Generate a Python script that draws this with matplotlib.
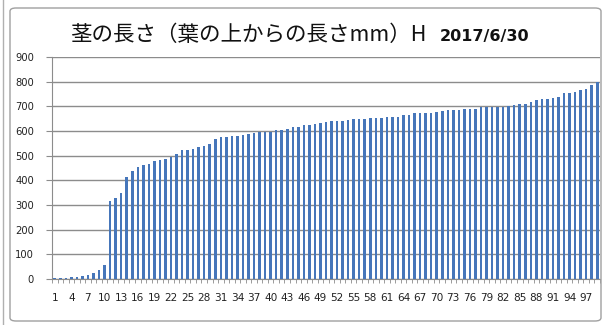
import matplotlib.pyplot as plt
from matplotlib.patches import FancyBboxPatch
from matplotlib.ticker import MultipleLocator
import numpy as np

plt.rcParams['font.family'] = ['Noto Sans CJK JP', 'DejaVu Sans']

# stem lengths (mm), sorted ascending, one bar per plant
lengths = [
    3, 4, 5, 9, 10, 14, 15, 25, 38, 58,
    318, 327, 347, 412, 437, 455, 464, 465, 478, 482,
    486, 493, 505, 522, 522, 529, 536, 540, 549, 568,
    574, 576, 579, 579, 583, 586, 592, 596, 596, 597,
    603, 606, 608, 617, 617, 623, 623, 630, 633, 638,
    640, 640, 641, 644, 648, 648, 649, 653, 653, 654,
    655, 657, 658, 664, 664, 671, 671, 675, 675, 677,
    680, 684, 684, 685, 688, 688, 691, 698, 698, 698,
    698, 699, 700, 704, 711, 711, 718, 725, 731, 731,
    734, 738, 756, 756, 757, 768, 772, 788, 799,
]
plant_no = np.arange(1, len(lengths) + 1)
tick_no = plant_no[::3]

title = "茎の長さ（葉の上からの長さmm）H"
date = "2017/6/30"

fig = plt.figure(figsize=(6.04, 3.25), dpi=100)

# chart frame
fig.patches.append(FancyBboxPatch((10 / 604, 4 / 325), 591 / 604, 313 / 325,
                                  boxstyle="round,pad=0,rounding_size=0.01",
                                  transform=fig.transFigure, fill=False,
                                  edgecolor="#a0a0a0", linewidth=1.0))
fig.add_artist(plt.Line2D([3 / 604, 3 / 604], [0, 1], transform=fig.transFigure,
                          color="#b0b0b0", linewidth=1.0))

ax = fig.add_axes([52 / 604, 46 / 325, 548 / 604, 222 / 325])
ax.bar(plant_no, lengths, width=0.46, color="#4676ba", edgecolor="none", zorder=3)

ax.set_xlim(0.5, len(lengths) + 0.5)
ax.set_ylim(0, 900)
ax.yaxis.set_major_locator(MultipleLocator(100))
ax.grid(axis="y", color="#8c8c8c", linewidth=1.0, zorder=0)

ax.set_xticks(tick_no)
ax.set_xticklabels([str(n) for n in tick_no], family="DejaVu Sans")
ax.set_xticks(np.arange(0.5, len(lengths) + 1), minor=True)
ax.tick_params(axis="x", which="major", length=0, pad=10, labelsize=7.6, colors="#222222")
ax.tick_params(axis="x", which="minor", length=3, color="#8c8c8c")
ax.tick_params(axis="y", length=4, color="#8c8c8c", pad=9, labelsize=7.2, labelcolor="#222222")
for lab in ax.get_yticklabels():
    lab.set_family("DejaVu Sans")

for side in ("top", "right"):
    ax.spines[side].set_visible(False)
for side in ("left", "bottom"):
    ax.spines[side].set_color("#8c8c8c")

fig.text(70 / 604, 1 - 35 / 325, title, fontsize=15.5, va="center", ha="left", color="#111111")
fig.text(440 / 604, 1 - 36 / 325, date, fontsize=11.5, fontweight="bold",
         family="DejaVu Sans", va="center", ha="left", color="#111111")

fig.savefig("out.png", dpi=100)
